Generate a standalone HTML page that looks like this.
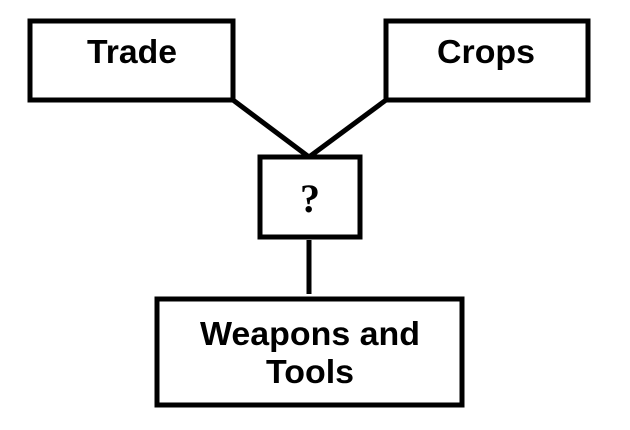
<!DOCTYPE html>
<html><head><style>html,body{margin:0;padding:0;background:#fff;}svg{display:block}</style></head>
<body>
<svg width="630" height="430" viewBox="0 0 630 430" xmlns="http://www.w3.org/2000/svg">
<g fill="none" stroke="#000" stroke-width="5">
<rect x="30" y="21" width="203" height="79"/>
<rect x="386" y="21" width="202" height="79"/>
<rect x="260" y="157" width="100" height="80"/>
<rect x="157" y="299" width="305" height="106"/>
<line x1="233" y1="100" x2="309" y2="157"/>
<line x1="386" y1="100" x2="309" y2="157"/>
<line x1="309" y1="240" x2="309" y2="294"/>
</g>
<g font-family="Liberation Sans, Arial, sans-serif" font-weight="bold" font-size="33" fill="#000" text-anchor="middle">
<text x="132" y="63" textLength="90" lengthAdjust="spacingAndGlyphs">Trade</text>
<text x="486" y="63" textLength="98" lengthAdjust="spacingAndGlyphs">Crops</text>
<text x="310" y="345" textLength="220" lengthAdjust="spacingAndGlyphs">Weapons and</text>
<text x="310" y="383" textLength="88" lengthAdjust="spacingAndGlyphs">Tools</text>
</g>
<text x="310" y="212" font-family="Liberation Serif, serif" font-weight="bold" font-size="40" text-anchor="middle">?</text>
</svg>
</body></html>
